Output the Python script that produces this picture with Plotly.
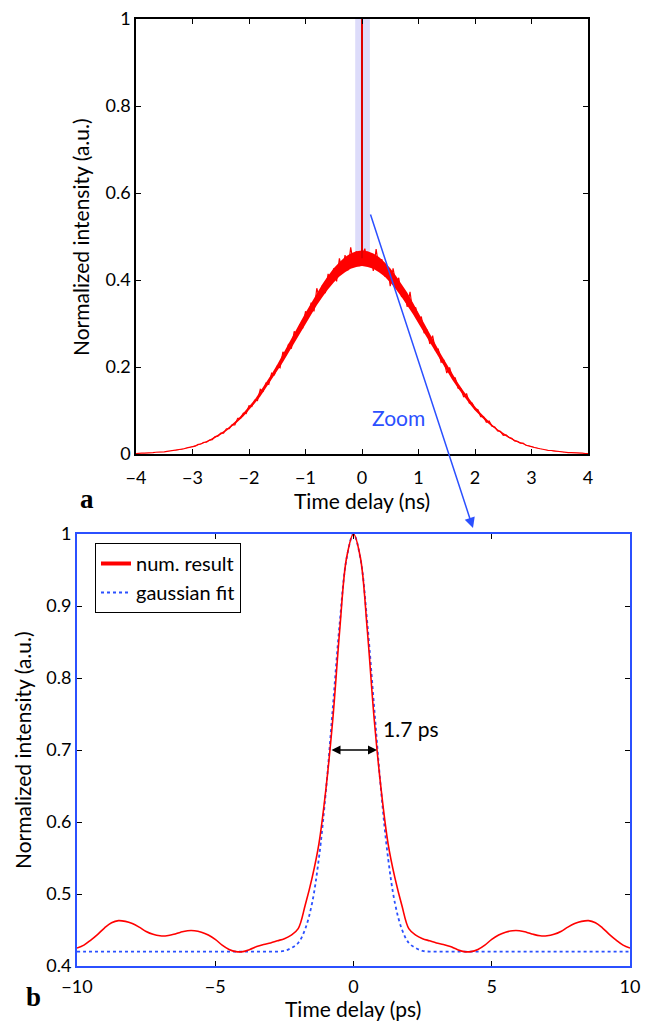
import numpy as np
import plotly.graph_objects as go

W, H = 655, 1023
FONT = "Lato"
BLUE = "#2b50ff"
RED = "#ff0000"

# ---- panel a: full trace (time delay in ns) ----
t_ns = np.linspace(-4, 4, 161)
intensity_ns = [
    0.001, 0.002, 0.002, 0.002, 0.002, 0.003, 0.003, 0.004, 0.004, 0.005,
    0.005, 0.006, 0.007, 0.007, 0.009, 0.009, 0.011, 0.012, 0.014, 0.015,
    0.017, 0.018, 0.022, 0.023, 0.027, 0.027, 0.032, 0.033, 0.040, 0.041,
    0.048, 0.048, 0.058, 0.058, 0.067, 0.067, 0.082, 0.082, 0.094, 0.093,
    0.111, 0.109, 0.124, 0.123, 0.149, 0.144, 0.163, 0.160, 0.186, 0.182,
    0.202, 0.198, 0.235, 0.227, 0.253, 0.242, 0.282, 0.269, 0.298, 0.289,
    0.328, 0.317, 0.348, 0.328, 0.381, 0.356, 0.388, 0.370, 0.414, 0.395,
    0.427, 0.397, 0.450, 0.417, 0.457, 0.422, 0.475, 0.437, 0.466, 0.432,
    0.455,
    0.472, 0.435, 0.460, 0.421, 0.471, 0.427, 0.448, 0.408, 0.430, 0.386,
    0.427, 0.391, 0.405, 0.361, 0.374, 0.338, 0.373, 0.325, 0.337, 0.306,
    0.316, 0.278, 0.286, 0.253, 0.272, 0.238, 0.241, 0.211, 0.215, 0.186,
    0.199, 0.175, 0.175, 0.151, 0.150, 0.131, 0.139, 0.117, 0.117, 0.103,
    0.102, 0.086, 0.086, 0.073, 0.076, 0.064, 0.062, 0.053, 0.052, 0.043,
    0.044, 0.038, 0.036, 0.030, 0.029, 0.025, 0.025, 0.020, 0.019, 0.017,
    0.015, 0.013, 0.012, 0.011, 0.009, 0.008, 0.008, 0.007, 0.006, 0.005,
    0.004, 0.004, 0.003, 0.003, 0.003, 0.002, 0.002, 0.002, 0.001, 0.001,
]
# dense noise band (upper / lower edge), t = 0, 0.1, ..., 4 ns; mirrored for t < 0
t_band = np.linspace(-4, 4, 81)
band_hi_half = [
    0.468, 0.466, 0.461, 0.453, 0.441, 0.427, 0.410, 0.391, 0.371, 0.348,
    0.325, 0.301, 0.277, 0.253, 0.229, 0.206, 0.184, 0.163, 0.144, 0.125,
    0.109, 0.094, 0.080, 0.068, 0.057, 0.048, 0.040, 0.033, 0.027, 0.022,
    0.018, 0.014, 0.011, 0.009, 0.007, 0.005, 0.004, 0.003, 0.002, 0.002, 0.001,
]
band_lo_half = [
    0.432, 0.430, 0.426, 0.418, 0.408, 0.394, 0.379, 0.361, 0.342, 0.322,
    0.300, 0.278, 0.255, 0.233, 0.211, 0.190, 0.170, 0.151, 0.132, 0.116,
    0.100, 0.086, 0.074, 0.063, 0.053, 0.044, 0.037, 0.030, 0.025, 0.020,
    0.016, 0.013, 0.010, 0.008, 0.006, 0.005, 0.004, 0.003, 0.002, 0.002, 0.001,
]
band_hi = band_hi_half[::-1] + band_hi_half[1:]
band_lo = band_lo_half[::-1] + band_lo_half[1:]
# narrow central peak
spike_t = [0.0, 0.0]
spike_y = [0.45, 1.0]
zoom_window = [-0.12, 0.14]

# ---- panel b: zoom on the peak (time delay in ps) ----
t_ps = np.linspace(-10, 10, 81)
num_result = [
    0.425, 0.429, 0.436, 0.444, 0.453, 0.460, 0.463, 0.462, 0.459, 0.454,
    0.448, 0.444, 0.442, 0.442, 0.444, 0.447, 0.449, 0.449, 0.447, 0.443,
    0.437, 0.429, 0.423, 0.420, 0.420, 0.423, 0.427, 0.430, 0.432, 0.435,
    0.438, 0.443, 0.452, 0.484, 0.522, 0.570, 0.645, 0.742, 0.866, 0.967,
    1.000,
    0.967, 0.866, 0.742, 0.645, 0.570, 0.522, 0.484, 0.452, 0.443, 0.438,
    0.435, 0.432, 0.430, 0.427, 0.423, 0.420, 0.420, 0.423, 0.429, 0.437,
    0.443, 0.447, 0.449, 0.449, 0.447, 0.444, 0.442, 0.442, 0.444, 0.448,
    0.454, 0.459, 0.462, 0.463, 0.460, 0.453, 0.444, 0.436, 0.429, 0.425,
]
gauss_fit = [
    0.420, 0.420, 0.420, 0.420, 0.420, 0.420, 0.420, 0.420, 0.420, 0.420,
    0.420, 0.420, 0.420, 0.420, 0.420, 0.420, 0.420, 0.420, 0.420, 0.420,
    0.420, 0.420, 0.420, 0.420, 0.420, 0.420, 0.420, 0.420, 0.420, 0.420,
    0.421, 0.425, 0.432, 0.451, 0.487, 0.550, 0.642, 0.758, 0.876, 0.966,
    1.000,
    0.966, 0.876, 0.758, 0.642, 0.550, 0.487, 0.451, 0.432, 0.425, 0.421,
    0.420, 0.420, 0.420, 0.420, 0.420, 0.420, 0.420, 0.420, 0.420, 0.420,
    0.420, 0.420, 0.420, 0.420, 0.420, 0.420, 0.420, 0.420, 0.420, 0.420,
    0.420, 0.420, 0.420, 0.420, 0.420, 0.420, 0.420, 0.420, 0.420, 0.420,
]
fwhm_ends = [-0.85, 0.85]
fwhm_level = 0.7
fwhm_label = "1.7 ps"

fig = go.Figure()

fig.add_trace(go.Scatter(x=t_band, y=band_lo, mode="lines", line=dict(width=0, color=RED),
                         showlegend=False, hoverinfo="skip", xaxis="x", yaxis="y"))
fig.add_trace(go.Scatter(x=t_band, y=band_hi, mode="lines", line=dict(width=0, color=RED),
                         fill="tonexty", fillcolor=RED, showlegend=False, hoverinfo="skip",
                         xaxis="x", yaxis="y"))
fig.add_trace(go.Scatter(x=t_ns, y=intensity_ns, mode="lines",
                         line=dict(color=RED, width=1.2), showlegend=False,
                         xaxis="x", yaxis="y"))
fig.add_trace(go.Scatter(x=spike_t, y=spike_y, mode="lines",
                         line=dict(color="#e00000", width=2), showlegend=False,
                         xaxis="x", yaxis="y"))

fig.add_trace(go.Scatter(x=t_ps, y=gauss_fit, mode="lines", line_shape="spline",
                         line=dict(color=BLUE, width=1.8, dash="dot"),
                         showlegend=False, xaxis="x2", yaxis="y2"))
fig.add_trace(go.Scatter(x=t_ps, y=num_result, mode="lines", line_shape="spline",
                         line=dict(color=RED, width=1.6),
                         showlegend=False, xaxis="x2", yaxis="y2"))
# legend entries (thicker sample line like the original)
fig.add_trace(go.Scatter(x=[None], y=[None], mode="lines", name="num. result",
                         line=dict(color=RED, width=4), xaxis="x2", yaxis="y2"))
fig.add_trace(go.Scatter(x=[None], y=[None], mode="lines", name="gaussian fit",
                         line=dict(color=BLUE, width=1.8, dash="dot"), xaxis="x2", yaxis="y2"))

# shaded zoom window
fig.add_shape(type="rect", xref="x", yref="y", x0=zoom_window[0], x1=zoom_window[1],
              y0=0.45, y1=1, fillcolor="#dddcfa", line_width=0, layer="below")

tickfont = dict(family=FONT, size=18, color="black")
common = dict(showgrid=False, zeroline=False, showline=True, mirror="ticks",
              ticks="inside", ticklen=5, tickwidth=1, tickcolor="black",
              tickfont=tickfont, automargin=False)

fig.update_layout(
    width=W, height=H,
    margin=dict(l=0, r=0, t=0, b=0),
    paper_bgcolor="white", plot_bgcolor="white",
    font=dict(family=FONT, color="black"),
    xaxis=dict(domain=[136 / W, 588 / W], range=[-4, 4], tickvals=[-4, -3, -2, -1, 0, 1, 2, 3, 4],
               linecolor="black", linewidth=1.5, anchor="y", ticklabelstandoff=7, **common),
    yaxis=dict(domain=[1 - 454 / H, 1 - 19 / H], range=[0, 1],
               tickvals=[0, 0.2, 0.4, 0.6, 0.8, 1], ticktext=["0", "0.2", "0.4", "0.6", "0.8", "1"],
               linecolor="black", linewidth=1.5, anchor="x", **common),
    xaxis2=dict(domain=[77 / W, 630 / W], range=[-10, 10], tickvals=[-10, -5, 0, 5, 10],
                linecolor=BLUE, linewidth=2, anchor="y2", ticklabelstandoff=3, **common),
    yaxis2=dict(domain=[1 - 966 / H, 1 - 534 / H], range=[0.4, 1],
                tickvals=[0.4, 0.5, 0.6, 0.7, 0.8, 0.9, 1],
                ticktext=["0.4", "0.5", "0.6", "0.7", "0.8", "0.9", "1"],
                linecolor=BLUE, linewidth=2, anchor="x2", **common),
    legend=dict(x=95 / W, y=1 - 543 / H, xanchor="left", yanchor="top",
                bgcolor="white", bordercolor="black", borderwidth=1, traceorder="normal",
                font=dict(family=FONT, size=20), tracegroupgap=0, itemwidth=30),
)

titlefont = dict(family=FONT, size=21, color="black")
ann = [
    dict(text="Normalized intensity (a.u.)", x=80 / W, y=1 - 237 / H, textangle=-90),
    dict(text="Time delay (ns)", x=362 / W, y=1 - 500 / H),
    dict(text="Normalized intensity (a.u.)", x=22 / W, y=1 - 750 / H, textangle=-90),
    dict(text="Time delay (ps)", x=353 / W, y=1 - 1008 / H),
]
for a in ann:
    fig.add_annotation(xref="paper", yref="paper", showarrow=False, font=titlefont,
                       xanchor="center", yanchor="middle", **a)

# panel letters
for letter, px, py in [("a", 78, 499), ("b", 24, 1014)]:
    fig.add_annotation(text="<b>" + letter + "</b>", xref="paper", yref="paper",
                       x=px / W, y=1 - py / H, showarrow=False,
                       font=dict(family="Liberation Serif", size=27, color="black"))

# blue zoom arrow from panel a to panel b
fig.add_annotation(xref="paper", yref="paper", axref="pixel", ayref="pixel",
                   x=473 / W, y=1 - 528 / H, ax=370 - 473, ay=213 - 528,
                   text="", showarrow=True, arrowhead=2, arrowsize=1.4,
                   arrowwidth=1.5, arrowcolor=BLUE)
fig.add_annotation(text="Zoom", xref="paper", yref="paper", x=398 / W, y=1 - 417 / H,
                   showarrow=False, font=dict(family=FONT, size=21, color=BLUE))

# FWHM double arrow
fig.add_annotation(xref="x2", yref="y2", axref="x2", ayref="y2",
                   x=fwhm_ends[1], y=fwhm_level, ax=fwhm_ends[0], ay=fwhm_level,
                   text="", showarrow=True, arrowhead=2, startarrowhead=2,
                   arrowside="end+start", arrowsize=1.2, arrowwidth=1.5, arrowcolor="black")
fig.add_annotation(text=fwhm_label, xref="x2", yref="y2", x=1.0, y=0.73,
                   xanchor="left", showarrow=False,
                   font=dict(family=FONT, size=21, color="black"))

fig.write_html("out.html", config={"displayModeBar": False},
               post_script="document.body.style.margin='0';document.body.style.overflow='hidden';")
